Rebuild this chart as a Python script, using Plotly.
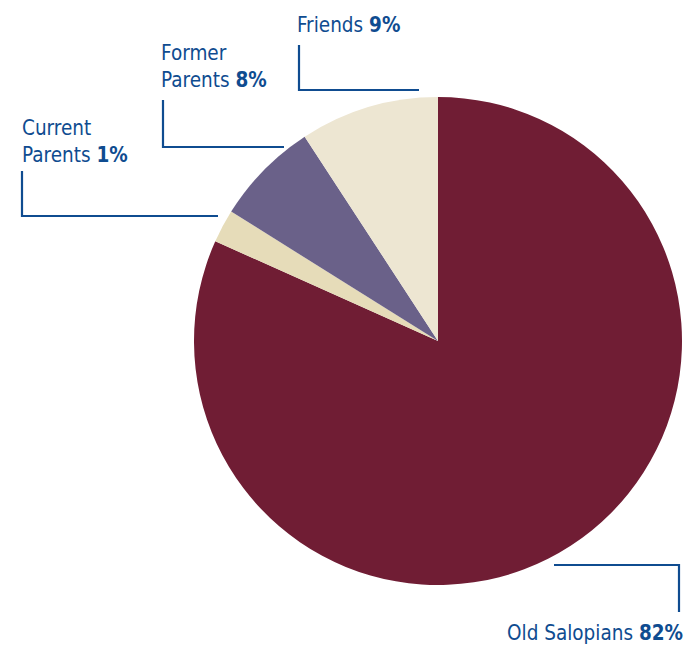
import plotly.graph_objects as go

W, H = 698, 661

# Data (drawn clockwise from 12 o'clock)
categories = ["Old Salopians", "Current Parents", "Former Parents", "Friends"]
values = [81.7, 2.2, 6.9, 9.2]          # proportions as drawn
pct_labels = ["82%", "1%", "8%", "9%"]  # printed labels
colors = ["#701d34", "#e6dcb9", "#6a6189", "#ede6d2"]

TXT = "#0f4c90"
FONT = "DejaVu Sans Condensed, DejaVu Sans, sans-serif"
FS = 20.5

cx, cy, r = 438, 341, 244

fig = go.Figure(go.Pie(
    labels=categories,
    values=values,
    sort=False,
    direction="clockwise",
    rotation=0,
    marker=dict(colors=colors, line=dict(width=0)),
    textinfo="none",
    hoverinfo="label+percent",
    showlegend=False,
    domain=dict(x=[(cx - r) / W, (cx + r) / W], y=[1 - (cy + r) / H, 1 - (cy - r) / H]),
))

def px(x):
    return x / W

def py(y):
    return 1 - y / H

# label layout: (name lines, anchor x, top y, xanchor)
label_pos = {
    "Friends": (["Friends"], 295, 11, "left"),
    "Former Parents": (["Former", "Parents"], 159, 39, "left"),
    "Current Parents": (["Current", "Parents"], 20, 114, "left"),
    "Old Salopians": (["Old Salopians"], 685, 619, "right"),
}

annotations = []
for cat, pct in zip(categories, pct_labels):
    lines, lx, ty, xa = label_pos[cat]
    text = "<br>".join(lines[:-1] + [lines[-1] + " <b>" + pct + "</b>"])
    annotations.append(dict(
        x=px(lx), y=py(ty), xref="paper", yref="paper",
        xanchor=xa, yanchor="top", align="left",
        text=text, showarrow=False,
        font=dict(family=FONT, size=FS, color=TXT),
    ))

# leader lines (paper coordinates)
leaders = [
    [(299, 45), (299, 90), (419, 90)],
    [(163, 100), (163, 147), (284, 147)],
    [(22, 171), (22, 216), (218, 216)],
    [(554, 565), (679, 565), (679, 612)],
]
shapes = []
for pts in leaders:
    path = "M " + " L ".join(f"{px(x):.5f},{py(y):.5f}" for x, y in pts)
    shapes.append(dict(type="path", xref="paper", yref="paper", path=path,
                       line=dict(color=TXT, width=2.2)))

fig.update_layout(
    width=W, height=H,
    margin=dict(l=0, r=0, t=0, b=0),
    paper_bgcolor="white", plot_bgcolor="white",
    annotations=annotations, shapes=shapes,
)

fig.write_html("out.html", config={"displayModeBar": False},
               post_script="document.body.style.margin='0';document.body.style.padding='0';")
